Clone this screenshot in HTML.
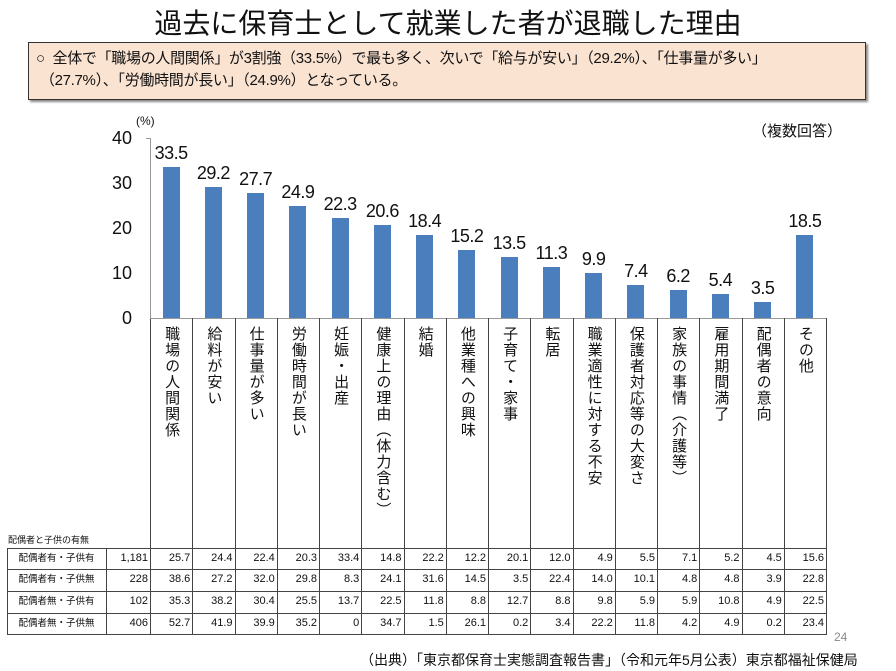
<!DOCTYPE html>
<html><head><meta charset="utf-8"><style>
body{margin:0;background:#fff;}
#c{position:relative;width:896px;height:671px;overflow:hidden;font-family:"Liberation Sans","Noto Sans CJK JP",sans-serif;color:#111;}
.a{position:absolute;}
.bar{position:absolute;background:#4a7ebd;width:17px;}
.val{position:absolute;width:60px;text-align:center;font-size:18px;letter-spacing:-0.5px;}
.vl{position:absolute;width:1px;background:#999;}
.cat{position:absolute;writing-mode:vertical-rl;font-size:15px;line-height:18px;letter-spacing:1px;}
.cell{position:absolute;font-size:11px;text-align:right;height:21px;line-height:21px;}
.hl{position:absolute;height:1px;background:#444;}
</style></head><body><div id="c">
<div class="a" style="left:0;width:896px;top:2px;text-align:center;font-size:28px;">過去に保育士として就業した者が退職した理由</div>
<div class="a" style="left:28px;top:42px;width:836px;height:56px;background:#fbe3d2;border:1.5px solid #333;box-shadow:2px 2px 2px #888;"></div>
<div class="a" style="left:36px;top:48px;font-size:15px;line-height:22px;letter-spacing:-0.3px;">○&nbsp; 全体で「職場の人間関係」が3割強（33.5%）で最も多く、次いで「給与が安い」（29.2%）、「仕事量が多い」<br>&nbsp;（27.7%）、「労働時間が長い」（24.9%）となっている。</div>
<div class="a" style="left:136px;top:114px;font-size:12px;">(%)</div>
<div class="a" style="left:752px;top:120px;font-size:15px;">（複数回答）</div>
<div class="a" style="left:104px;top:128px;font-size:18px;width:28px;text-align:right;">40</div>
<div class="a" style="left:104px;top:173px;font-size:18px;width:28px;text-align:right;">30</div>
<div class="a" style="left:104px;top:218px;font-size:18px;width:28px;text-align:right;">20</div>
<div class="a" style="left:104px;top:263px;font-size:18px;width:28px;text-align:right;">10</div>
<div class="a" style="left:104px;top:308px;font-size:18px;width:28px;text-align:right;">0</div>
<div class="a" style="left:150px;top:138px;width:1px;height:180px;background:#999;"></div>
<div class="a" style="left:150px;top:318px;width:1px;height:316px;background:#444;"></div>
<div class="a" style="left:146px;top:138px;width:4px;height:1px;background:#999;"></div>
<div class="a" style="left:150px;top:318px;width:677px;height:1px;background:#999;"></div>
<div id="bars"></div>
<div class="a" style="left:8px;top:533px;font-size:9px;">配偶者と子供の有無</div>
<div class="hl" style="left:7px;top:548px;width:820px;"></div>
<div class="hl" style="left:7px;top:569px;width:820px;"></div>
<div class="hl" style="left:7px;top:591px;width:820px;"></div>
<div class="hl" style="left:7px;top:613px;width:820px;"></div>
<div class="hl" style="left:7px;top:634px;width:820px;"></div>
<div class="a" style="left:7px;top:548px;width:1px;height:86px;background:#444;"></div>
<div class="a" style="left:106px;top:548px;width:1px;height:86px;background:#444;"></div>
<div id="tbl"></div>
<div class="a" style="left:834px;top:630px;font-size:12px;color:#888;">24</div>
<div class="a" style="left:360px;top:650px;font-size:14px;">（出典）「東京都保育士実態調査報告書」（令和元年5月公表）東京都福祉保健局</div>
</div>
<script>
var v=[33.5,29.2,27.7,24.9,22.3,20.6,18.4,15.2,13.5,11.3,9.9,7.4,6.2,5.4,3.5,18.5];
var cats=["職場の人間関係","給料が安い","仕事量が多い","労働時間が長い","妊娠・出産","健康上の理由（体力含む）","結婚","他業種への興味","子育て・家事","転居","職業適性に対する不安","保護者対応等の大変さ","家族の事情（介護等）","雇用期間満了","配偶者の意向","その他"];
var rows=[["配偶者有・子供有","1,181",25.7,24.4,22.4,20.3,33.4,14.8,22.2,12.2,20.1,12.0,4.9,5.5,7.1,5.2,4.5,15.6],
["配偶者有・子供無","228",38.6,27.2,32.0,29.8,8.3,24.1,31.6,14.5,3.5,22.4,14.0,10.1,4.8,4.8,3.9,22.8],
["配偶者無・子供有","102",35.3,38.2,30.4,25.5,13.7,22.5,11.8,8.8,12.7,8.8,9.8,5.9,5.9,10.8,4.9,22.5],
["配偶者無・子供無","406",52.7,41.9,39.9,35.2,"0",34.7,1.5,26.1,0.2,3.4,22.2,11.8,4.2,4.9,0.2,23.4]];
var h="",p=42.25;
for(var i=0;i<16;i++){var x0=150+i*p,cx=x0+p/2,t=318-v[i]*4.5;
h+='<div class="bar" style="left:'+(cx-8.5)+'px;top:'+t+'px;height:'+(v[i]*4.5)+'px"></div>';
h+='<div class="val" style="left:'+(cx-30)+'px;top:'+(t-24)+'px">'+v[i].toFixed(1)+'</div>';
h+='<div class="vl" style="left:'+(x0+p)+'px;top:318px;height:316px;background:#444"></div>';
h+='<div class="cat" style="left:'+(cx-9)+'px;top:326px">'+cats[i]+'</div>';}
document.getElementById("bars").innerHTML=h;
var tb="",ys=[548,569,591,613];
for(var r=0;r<4;r++){var y=ys[r];
tb+='<div class="cell" style="left:7px;width:99px;text-align:center;font-size:9.5px;top:'+y+'px">'+rows[r][0]+'</div>';
tb+='<div class="cell" style="left:106px;width:42px;top:'+y+'px">'+rows[r][1]+'</div>';
for(var i=0;i<16;i++){var val=rows[r][i+2];if(typeof val=="number")val=val.toFixed(1);
tb+='<div class="cell" style="left:'+(150+i*p)+'px;width:'+(p-2)+'px;top:'+y+'px">'+val+'</div>';}}
document.getElementById("tbl").innerHTML=tb;
</script>
</body></html>
